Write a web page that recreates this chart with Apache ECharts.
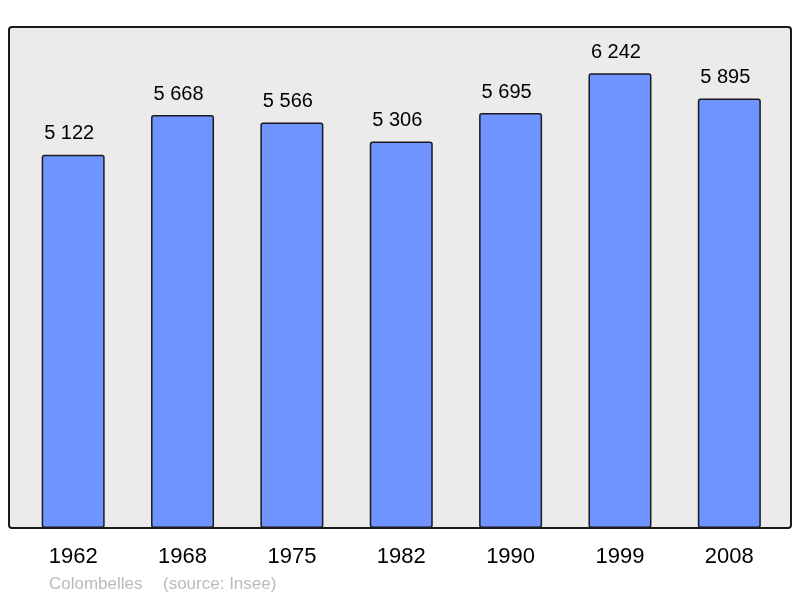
<!DOCTYPE html>
<html><head><meta charset="utf-8">
<script src="https://cdn.jsdelivr.net/npm/echarts@6/dist/echarts.min.js"></script>
<style>html,body{margin:0;padding:0;background:#fff}#c{width:800px;height:598px}</style>
</head><body><div id="c"></div>
<script>
var years = ['1962','1968','1975','1982','1990','1999','2008'];
var population = [5122, 5668, 5566, 5306, 5695, 6242, 5895];
var town = 'Colombelles';
var source = '(source: Insee)';

var chart = echarts.init(document.getElementById('c'), null, {renderer:'canvas'});
function fmt(v){ return String(v).replace(/\B(?=(\d{3})+(?!\d))/g, ' '); }
chart.setOption({
  animation:false,
  backgroundColor:'#ffffff',
  graphic:[
    {type:'rect', shape:{x:9, y:27, width:782, height:501, r:3}, style:{fill:'#ebebeb', stroke:'#1a1a1a', lineWidth:2}, z:-10},
    {type:'text', left:49, top:576, style:{text:town, fill:'#bbbbbb', font:'17px "Liberation Sans", Arial, sans-serif'}},
    {type:'text', left:163, top:576, style:{text:source, fill:'#bbbbbb', font:'17px "Liberation Sans", Arial, sans-serif'}}
  ],
  grid:{left:18.5, right:16, top:27, bottom:70, containLabel:false},
  xAxis:{type:'category', data:years, axisLine:{show:false}, axisTick:{show:false},
    axisLabel:{color:'#000', fontSize:22, fontFamily:'"Liberation Sans", Arial, sans-serif', margin:18}},
  yAxis:{type:'value', min:0, max:6876, show:false, splitLine:{show:false}},
  series:[{type:'bar', data:population, barWidth:63,
    itemStyle:{color:'#7094ff', borderColor:'#1a1a1a', borderWidth:1.5, borderRadius:2},
    label:{show:true, position:'top', distance:11, offset:[-4,0], color:'#000', fontSize:20,
      fontFamily:'"Liberation Sans", Arial, sans-serif', formatter:function(p){return fmt(p.value);}}
  }]
});
</script></body></html>
